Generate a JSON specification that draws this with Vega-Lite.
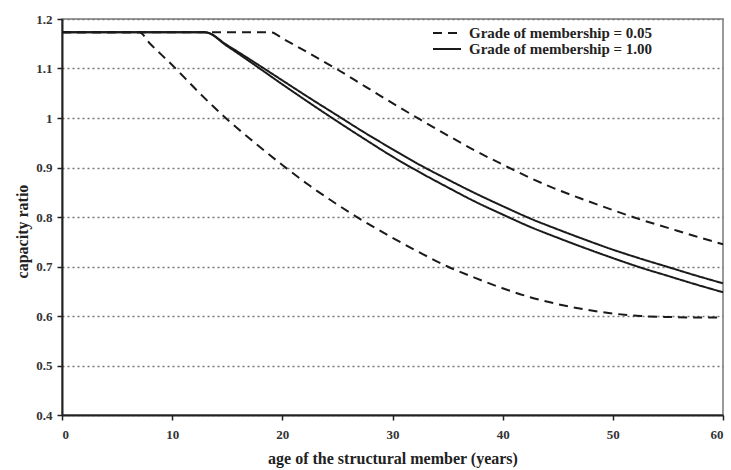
{
  "$schema": "https://vega.github.io/schema/vega-lite/v6.json",
  "autosize": "none",
  "width": 661,
  "height": 396,
  "padding": {"left": 62, "top": 19, "right": 8, "bottom": 55},
  "background": "white",
  "config": {
    "view": {"stroke": "#7a7a7a", "strokeWidth": 1.5},
    "font": "Liberation Serif"
  },
  "data": {"values": [
    {"series":"L","grade":"Grade of membership = 0.05","age":0,"ratio":1.173},
    {"series":"L","grade":"Grade of membership = 0.05","age":7,"ratio":1.173},
    {"series":"L","grade":"Grade of membership = 0.05","age":8,"ratio":1.15},
    {"series":"L","grade":"Grade of membership = 0.05","age":10,"ratio":1.107},
    {"series":"L","grade":"Grade of membership = 0.05","age":12.5,"ratio":1.05},
    {"series":"L","grade":"Grade of membership = 0.05","age":15,"ratio":0.997},
    {"series":"L","grade":"Grade of membership = 0.05","age":17.5,"ratio":0.95},
    {"series":"L","grade":"Grade of membership = 0.05","age":20,"ratio":0.905},
    {"series":"L","grade":"Grade of membership = 0.05","age":22.5,"ratio":0.863},
    {"series":"L","grade":"Grade of membership = 0.05","age":25,"ratio":0.825},
    {"series":"L","grade":"Grade of membership = 0.05","age":27.5,"ratio":0.79},
    {"series":"L","grade":"Grade of membership = 0.05","age":30,"ratio":0.758},
    {"series":"L","grade":"Grade of membership = 0.05","age":32.5,"ratio":0.728},
    {"series":"L","grade":"Grade of membership = 0.05","age":35,"ratio":0.70},
    {"series":"L","grade":"Grade of membership = 0.05","age":37.5,"ratio":0.677},
    {"series":"L","grade":"Grade of membership = 0.05","age":40,"ratio":0.656},
    {"series":"L","grade":"Grade of membership = 0.05","age":42.5,"ratio":0.638},
    {"series":"L","grade":"Grade of membership = 0.05","age":45,"ratio":0.624},
    {"series":"L","grade":"Grade of membership = 0.05","age":47.5,"ratio":0.613},
    {"series":"L","grade":"Grade of membership = 0.05","age":50,"ratio":0.605},
    {"series":"L","grade":"Grade of membership = 0.05","age":52.5,"ratio":0.600},
    {"series":"L","grade":"Grade of membership = 0.05","age":55,"ratio":0.598},
    {"series":"L","grade":"Grade of membership = 0.05","age":57.5,"ratio":0.597},
    {"series":"L","grade":"Grade of membership = 0.05","age":60,"ratio":0.597},
    {"series":"U","grade":"Grade of membership = 0.05","age":0,"ratio":1.173},
    {"series":"U","grade":"Grade of membership = 0.05","age":19,"ratio":1.173},
    {"series":"U","grade":"Grade of membership = 0.05","age":20,"ratio":1.161},
    {"series":"U","grade":"Grade of membership = 0.05","age":22.5,"ratio":1.13},
    {"series":"U","grade":"Grade of membership = 0.05","age":25,"ratio":1.098},
    {"series":"U","grade":"Grade of membership = 0.05","age":27.5,"ratio":1.064},
    {"series":"U","grade":"Grade of membership = 0.05","age":30,"ratio":1.03},
    {"series":"U","grade":"Grade of membership = 0.05","age":32.5,"ratio":0.997},
    {"series":"U","grade":"Grade of membership = 0.05","age":35,"ratio":0.965},
    {"series":"U","grade":"Grade of membership = 0.05","age":37.5,"ratio":0.934},
    {"series":"U","grade":"Grade of membership = 0.05","age":40,"ratio":0.906},
    {"series":"U","grade":"Grade of membership = 0.05","age":42.5,"ratio":0.879},
    {"series":"U","grade":"Grade of membership = 0.05","age":45,"ratio":0.855},
    {"series":"U","grade":"Grade of membership = 0.05","age":47.5,"ratio":0.834},
    {"series":"U","grade":"Grade of membership = 0.05","age":50,"ratio":0.814},
    {"series":"U","grade":"Grade of membership = 0.05","age":52.5,"ratio":0.795},
    {"series":"U","grade":"Grade of membership = 0.05","age":55,"ratio":0.778},
    {"series":"U","grade":"Grade of membership = 0.05","age":57.5,"ratio":0.761},
    {"series":"U","grade":"Grade of membership = 0.05","age":60,"ratio":0.745},
    {"series":"S1","grade":"Grade of membership = 1.00","age":0,"ratio":1.173},
    {"series":"S1","grade":"Grade of membership = 1.00","age":13,"ratio":1.173},
    {"series":"S1","grade":"Grade of membership = 1.00","age":15,"ratio":1.147},
    {"series":"S1","grade":"Grade of membership = 1.00","age":17.5,"ratio":1.112},
    {"series":"S1","grade":"Grade of membership = 1.00","age":20,"ratio":1.076},
    {"series":"S1","grade":"Grade of membership = 1.00","age":22.5,"ratio":1.04},
    {"series":"S1","grade":"Grade of membership = 1.00","age":25,"ratio":1.005},
    {"series":"S1","grade":"Grade of membership = 1.00","age":27.5,"ratio":0.97},
    {"series":"S1","grade":"Grade of membership = 1.00","age":30,"ratio":0.937},
    {"series":"S1","grade":"Grade of membership = 1.00","age":32.5,"ratio":0.905},
    {"series":"S1","grade":"Grade of membership = 1.00","age":35,"ratio":0.876},
    {"series":"S1","grade":"Grade of membership = 1.00","age":37.5,"ratio":0.848},
    {"series":"S1","grade":"Grade of membership = 1.00","age":40,"ratio":0.822},
    {"series":"S1","grade":"Grade of membership = 1.00","age":42.5,"ratio":0.797},
    {"series":"S1","grade":"Grade of membership = 1.00","age":45,"ratio":0.775},
    {"series":"S1","grade":"Grade of membership = 1.00","age":47.5,"ratio":0.754},
    {"series":"S1","grade":"Grade of membership = 1.00","age":50,"ratio":0.734},
    {"series":"S1","grade":"Grade of membership = 1.00","age":52.5,"ratio":0.716},
    {"series":"S1","grade":"Grade of membership = 1.00","age":55,"ratio":0.699},
    {"series":"S1","grade":"Grade of membership = 1.00","age":57.5,"ratio":0.682},
    {"series":"S1","grade":"Grade of membership = 1.00","age":60,"ratio":0.666},
    {"series":"S2","grade":"Grade of membership = 1.00","age":0,"ratio":1.173},
    {"series":"S2","grade":"Grade of membership = 1.00","age":13,"ratio":1.173},
    {"series":"S2","grade":"Grade of membership = 1.00","age":15,"ratio":1.145},
    {"series":"S2","grade":"Grade of membership = 1.00","age":17.5,"ratio":1.107},
    {"series":"S2","grade":"Grade of membership = 1.00","age":20,"ratio":1.068},
    {"series":"S2","grade":"Grade of membership = 1.00","age":22.5,"ratio":1.03},
    {"series":"S2","grade":"Grade of membership = 1.00","age":25,"ratio":0.993},
    {"series":"S2","grade":"Grade of membership = 1.00","age":27.5,"ratio":0.957},
    {"series":"S2","grade":"Grade of membership = 1.00","age":30,"ratio":0.922},
    {"series":"S2","grade":"Grade of membership = 1.00","age":32.5,"ratio":0.89},
    {"series":"S2","grade":"Grade of membership = 1.00","age":35,"ratio":0.86},
    {"series":"S2","grade":"Grade of membership = 1.00","age":37.5,"ratio":0.831},
    {"series":"S2","grade":"Grade of membership = 1.00","age":40,"ratio":0.805},
    {"series":"S2","grade":"Grade of membership = 1.00","age":42.5,"ratio":0.78},
    {"series":"S2","grade":"Grade of membership = 1.00","age":45,"ratio":0.758},
    {"series":"S2","grade":"Grade of membership = 1.00","age":47.5,"ratio":0.737},
    {"series":"S2","grade":"Grade of membership = 1.00","age":50,"ratio":0.717},
    {"series":"S2","grade":"Grade of membership = 1.00","age":52.5,"ratio":0.698},
    {"series":"S2","grade":"Grade of membership = 1.00","age":55,"ratio":0.681},
    {"series":"S2","grade":"Grade of membership = 1.00","age":57.5,"ratio":0.664},
    {"series":"S2","grade":"Grade of membership = 1.00","age":60,"ratio":0.648}
  ]},
  "mark": {"type": "line", "interpolate": "monotone", "color": "#1a1a1a", "strokeWidth": 2},
  "encoding": {
    "x": {
      "field": "age", "type": "quantitative",
      "scale": {"domain": [0, 60], "nice": false},
      "axis": {
        "values": [0, 10, 20, 30, 40, 50, 60],
        "title": "age of the structural member (years)",
        "titleFont": "Liberation Serif", "titleFontSize": 16, "titleFontWeight": "bold", "titleColor": "#222",
        "titlePadding": 9,
        "labelFont": "Liberation Serif", "labelFontSize": 13, "labelFontWeight": "bold", "labelColor": "#333",
        "labelPadding": 8,
        "domainColor": "#222", "domainWidth": 2, "tickColor": "#222", "tickWidth": 1.5, "tickSize": 5,
        "grid": false
      }
    },
    "y": {
      "field": "ratio", "type": "quantitative",
      "scale": {"domain": [0.4, 1.2], "nice": false, "zero": false},
      "axis": {
        "values": [0.4, 0.5, 0.6, 0.7, 0.8, 0.9, 1.0, 1.1, 1.2],
        "labelExpr": "datum.value == 1 ? '1' : format(datum.value, '.1f')",
        "title": "capacity ratio",
        "titleFont": "Liberation Serif", "titleFontSize": 16, "titleFontWeight": "bold", "titleColor": "#222",
        "titlePadding": 5, "titleY": 212,
        "labelFont": "Liberation Serif", "labelFontSize": 13, "labelFontWeight": "bold", "labelColor": "#333",
        "labelPadding": 5,
        "domainColor": "#222", "domainWidth": 2, "tickColor": "#222", "tickWidth": 1.5, "tickSize": 5,
        "grid": true, "gridColor": "#777", "gridDash": [2, 3], "gridWidth": 1.3
      }
    },
    "detail": {"field": "series"},
    "strokeDash": {
      "field": "grade", "type": "nominal",
      "scale": {"domain": ["Grade of membership = 0.05", "Grade of membership = 1.00"], "range": [[9, 6], [1, 0]]},
      "legend": {
        "title": null,
        "orient": "none", "legendX": 377, "legendY": 6,
        "labelFont": "Liberation Serif", "labelFontSize": 15, "labelFontWeight": "bold", "labelColor": "#222",
        "labelLimit": 0,
        "symbolType": "M-2,0L2,0", "symbolSize": 196, "symbolStrokeWidth": 2, "symbolStrokeColor": "#1a1a1a",
        "rowPadding": -3, "labelOffset": 14
      }
    }
  }
}
